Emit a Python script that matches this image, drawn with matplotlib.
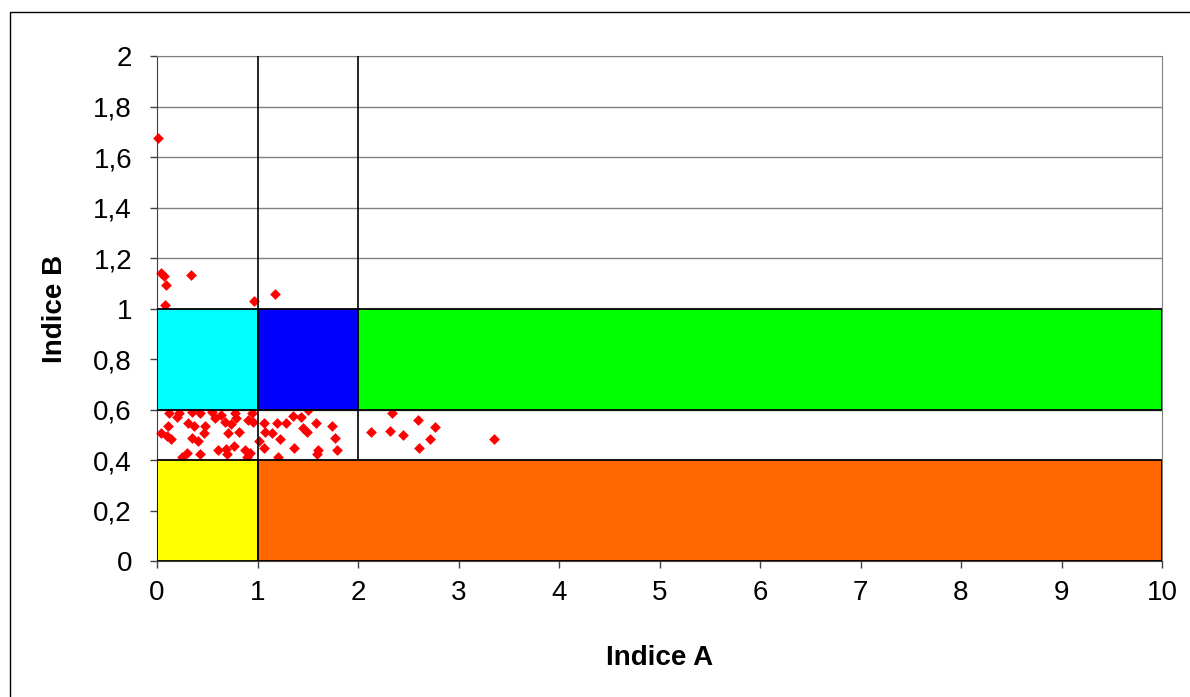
import matplotlib.pyplot as plt
from matplotlib.patches import Rectangle

plt.rcParams['font.family'] = ['Liberation Sans', 'DejaVu Sans']

# scatter points (Indice A, Indice B)
indice_a = [0.01, 0.04, 0.07, 0.09, 0.335, 0.08, 0.965, 1.174,
            0.12, 0.20, 0.22, 0.345, 0.43, 0.11, 0.04, 0.10, 0.14, 0.31,
            0.37, 0.48, 0.47, 0.345, 0.41, 0.30, 0.43, 0.58, 0.64, 0.675,
            0.74, 0.79, 0.78, 0.71, 0.82, 0.91, 0.96, 0.95, 1.01, 0.77,
            0.61, 0.685, 0.70, 0.875, 0.925, 1.06, 1.07, 1.14, 1.19, 1.28,
            1.355, 1.43, 1.45, 1.49, 1.58, 1.74, 1.77, 1.79, 1.605, 1.59,
            1.36, 1.22, 1.065, 2.125, 2.335, 2.32, 2.445, 2.60, 2.77, 2.72,
            2.61, 3.35, 0.55, 0.25, 0.90, 1.20, 1.50]
indice_b = [1.675, 1.142, 1.13, 1.094, 1.133, 1.014, 1.03, 1.057,
            0.585, 0.571, 0.585, 0.591, 0.585, 0.536, 0.508, 0.495, 0.482, 0.545,
            0.536, 0.536, 0.506, 0.486, 0.476, 0.426, 0.424, 0.565, 0.578, 0.552,
            0.543, 0.565, 0.585, 0.508, 0.512, 0.558, 0.552, 0.585, 0.476, 0.455,
            0.44, 0.442, 0.424, 0.44, 0.427, 0.545, 0.512, 0.508, 0.545, 0.545,
            0.574, 0.571, 0.525, 0.512, 0.545, 0.536, 0.486, 0.44, 0.44, 0.424,
            0.446, 0.482, 0.446, 0.512, 0.588, 0.514, 0.499, 0.558, 0.529, 0.483,
            0.446, 0.483, 0.59, 0.41, 0.41, 0.41, 0.60]

# zones: (x0, y0, width, height, colour)
zones = [
    (0, 0.6, 1, 0.4, '#00FFFF'),
    (1, 0.6, 1, 0.4, '#0000FF'),
    (2, 0.6, 8, 0.4, '#00FF00'),
    (0, 0, 1, 0.4, '#FFFF00'),
    (1, 0, 9, 0.4, '#FF6600'),
]
limits_a = [1, 2]

y_ticks = [0, 0.2, 0.4, 0.6, 0.8, 1, 1.2, 1.4, 1.6, 1.8, 2]
y_labels = ['0', '0,2', '0,4', '0,6', '0,8', '1', '1,2', '1,4', '1,6', '1,8', '2']
x_ticks = list(range(0, 11))

fig = plt.figure(figsize=(11.9, 6.97), dpi=100)
ax = fig.add_axes([157/1190, 1 - 561/697, 1005/1190, 505/697])

# outer frame
fig.patches.append(Rectangle((10/1190, -0.1), 1.2, 1 - 12/697 + 0.1,
                             transform=fig.transFigure, fill=False,
                             edgecolor='black', linewidth=1))

for v in y_ticks[1:]:
    ax.axhline(v, color='#808080', linewidth=1, zorder=1)

ax.scatter(indice_a, indice_b, marker='D', s=30, color='#FF0000',
           linewidths=0, zorder=2, clip_on=False)

for x in limits_a:
    ax.plot([x, x], [0, 2], color='black', linewidth=1.2, zorder=3)

for x0, y0, w, h, c in zones:
    ax.add_patch(Rectangle((x0, y0), w, h, facecolor=c, edgecolor='black',
                           linewidth=1.3, zorder=4))

ax.set_xlim(0, 10)
ax.set_ylim(0, 2)
ax.set_xticks(x_ticks)
ax.set_xticklabels([str(t) for t in x_ticks])
ax.set_yticks(y_ticks)
ax.set_yticklabels(y_labels)
ax.tick_params(labelsize=20, length=5, width=1, color='#404040')
ax.tick_params(axis='x', pad=9)
ax.tick_params(axis='y', pad=13)

ax.spines['top'].set_color('#808080')
ax.spines['right'].set_color('#808080')
ax.spines['left'].set_color('#404040')
ax.spines['bottom'].set_color('#404040')

ax.set_xlabel('Indice A', fontsize=20, fontweight='bold', labelpad=28)
ax.set_ylabel('Indice B', fontsize=20, fontweight='bold', labelpad=18)

fig.savefig('out.png', dpi=100)
